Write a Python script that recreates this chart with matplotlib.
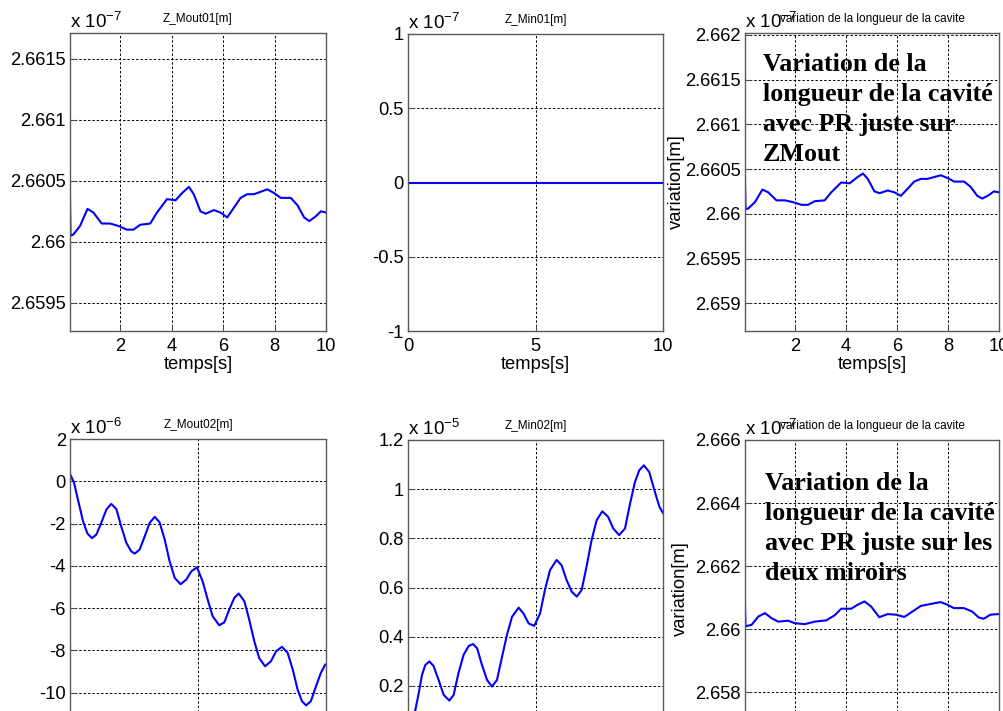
import numpy as np
import matplotlib.pyplot as plt

plt.rcParams['font.family'] = 'Liberation Sans'
plt.rcParams['axes.unicode_minus'] = False

# --- donnees ---
# Z_Mout01 (x 1e-7 m), PR juste sur ZMout
t_mout01 = [0.05, 0.07, 0.18, 0.44, 0.73, 0.96, 1.28, 1.61, 1.93, 2.26, 2.52, 2.78, 3.17,
            3.43, 3.82, 4.15, 4.41, 4.67, 4.86, 5.12, 5.32, 5.64, 5.90, 6.16, 6.42, 6.68,
            6.94, 7.20, 7.46, 7.72, 7.98, 8.24, 8.63, 8.89, 9.15, 9.35, 9.61, 9.80, 10.0]
z_mout01 = [2.66037, 2.66005, 2.66006, 2.66013, 2.66027, 2.66024, 2.66015, 2.66015, 2.66013,
            2.66010, 2.66010, 2.66014, 2.66015, 2.66024, 2.66035, 2.66034, 2.66040, 2.66045,
            2.66039, 2.66025, 2.66023, 2.66026, 2.66024, 2.66020, 2.66028, 2.66036, 2.66039,
            2.66039, 2.66041, 2.66043, 2.66040, 2.66036, 2.66036, 2.66030, 2.66020, 2.66017,
            2.66021, 2.66025, 2.66024]

# Z_Min01 (x 1e-7 m)
t_min01 = [0, 10]
z_min01 = [0, 0]

# Z_Mout02 (x 1e-6 m)
t_mout02 = [0.03, 0.16, 0.31, 0.51, 0.68, 0.86, 1.03, 1.22, 1.42, 1.61, 1.81, 2.0, 2.2, 2.39,
            2.53, 2.72, 2.92, 3.11, 3.31, 3.5, 3.70, 3.89, 4.09, 4.32, 4.54, 4.74, 4.96,
            5.18, 5.38, 5.57, 5.83, 6.03, 6.22, 6.42, 6.59, 6.81, 7.0, 7.2, 7.39, 7.62,
            7.85, 8.05, 8.28, 8.5, 8.7, 8.89, 9.06, 9.22, 9.41, 9.61, 9.8, 9.97]
z_mout02 = [0.27, -0.08, -0.87, -1.89, -2.47, -2.69, -2.52, -1.97, -1.34, -1.07, -1.31, -2.13,
            -2.91, -3.31, -3.42, -3.23, -2.6, -1.97, -1.68, -1.94, -2.76, -3.78, -4.57, -4.87,
            -4.65, -4.26, -4.07, -4.73, -5.6, -6.38, -6.81, -6.67, -6.07, -5.51, -5.31, -5.67,
            -6.54, -7.57, -8.36, -8.75, -8.51, -8.04, -7.83, -8.11, -8.9, -9.85, -10.4, -10.6,
            -10.4, -9.69, -9.06, -8.67]

# Z_Min02 (x 1e-5 m)
t_min02 = [0, 0.15, 0.29, 0.42, 0.55, 0.68, 0.84, 1.0, 1.2, 1.40, 1.62, 1.79, 1.98, 2.18,
           2.38, 2.55, 2.71, 2.9, 3.1, 3.29, 3.49, 3.69, 3.88, 4.08, 4.34, 4.53, 4.73, 4.95,
           5.18, 5.37, 5.57, 5.83, 6.02, 6.22, 6.42, 6.62, 6.81, 7.0, 7.2, 7.4, 7.62, 7.85,
           8.05, 8.28, 8.51, 8.71, 8.9, 9.07, 9.25, 9.46, 9.65, 9.86, 10.0]
z_min02 = [0.0, 0.04, 0.103, 0.17, 0.245, 0.285, 0.299, 0.281, 0.224, 0.163, 0.14, 0.163,
           0.252, 0.326, 0.362, 0.37, 0.353, 0.285, 0.224, 0.197, 0.224, 0.319, 0.407, 0.481,
           0.518, 0.494, 0.454, 0.444, 0.495, 0.59, 0.671, 0.712, 0.691, 0.63, 0.583, 0.563,
           0.59, 0.684, 0.793, 0.874, 0.91, 0.887, 0.84, 0.813, 0.84, 0.942, 1.029, 1.077,
           1.097, 1.07, 1.0, 0.928, 0.903]

# longueur de cavite, PR sur les deux miroirs (x 1e-7 m)
t_cav02 = [0.05, 0.07, 0.31, 0.57, 0.83, 1.09, 1.35, 1.74, 2.0, 2.39, 2.78, 3.23, 3.56, 3.82,
           4.21, 4.47, 4.73, 4.99, 5.31, 5.64, 5.96, 6.29, 6.61, 6.94, 7.32, 7.71, 7.97,
           8.23, 8.62, 8.95, 9.21, 9.40, 9.66, 10.0]
z_cav02 = [2.66078, 2.66009, 2.66014, 2.66040, 2.66051, 2.66035, 2.66024, 2.66027, 2.66019,
           2.66016, 2.66024, 2.66028, 2.66044, 2.66065, 2.66065, 2.66078, 2.66088, 2.66072,
           2.66038, 2.66048, 2.66046, 2.66039, 2.66056, 2.66074, 2.66080, 2.66086, 2.66078,
           2.66067, 2.66067, 2.66056, 2.66037, 2.66033, 2.66046, 2.66048]

texte_zmout = "Variation de la\nlongueur de la cavité\navec PR juste sur\nZMout"
texte_deux = "Variation de la\nlongueur de la cavité\navec PR juste sur les\ndeux miroirs"

W, H = 1004, 711
fig = plt.figure(figsize=(W / 100, H / 100), dpi=100)
FS = 13.2


def make_ax(left, top, right, bottom):
    return fig.add_axes([left / W, 1 - bottom / H, (right - left) / W, (bottom - top) / H])


def style(ax, title, expo):
    ax.grid(True, color='black', linestyle=(0, (2.5, 2)), linewidth=0.7)
    ax.tick_params(direction='in', length=4, labelsize=FS, color='0.3')
    ax.tick_params(axis='x', pad=5)
    ax.tick_params(axis='y', pad=3)
    for s in ax.spines.values():
        s.set_color('0.35')
        s.set_linewidth(1.0)
    ax.set_title(title, fontsize=8.5, pad=8)
    ax.text(0, 1.005, r'x 10$^{\mathregular{' + expo + '}}$', transform=ax.transAxes,
            ha='left', va='bottom', fontsize=13.5)


# ligne 1
ax1 = make_ax(70, 33, 326, 331)
ax1.plot(t_mout01, z_mout01, color='blue', lw=1.5)
ax1.set_xlim(0.05, 10)
ax1.set_ylim(2.65927, 2.66171)
ax1.set_xticks([2, 4, 6, 8, 10])
ax1.set_yticks([2.6595, 2.66, 2.6605, 2.661, 2.6615],
               ['2.6595', '2.66', '2.6605', '2.661', '2.6615'])
style(ax1, 'Z_Mout01[m]', '-7')
ax1.set_xlabel('temps[s]', fontsize=FS, labelpad=1)

ax2 = make_ax(408, 34, 663, 331)
ax2.plot(t_min01, z_min01, color='blue', lw=1.5)
ax2.set_xlim(0, 10)
ax2.set_ylim(-1, 1)
ax2.set_xticks([0, 5, 10])
ax2.set_yticks([-1, -0.5, 0, 0.5, 1], ['-1', '-0.5', '0', '0.5', '1'])
style(ax2, 'Z_Min01[m]', '-7')
ax2.set_xlabel('temps[s]', fontsize=FS, labelpad=1)

ax3 = make_ax(745, 33, 999, 331)
ax3.plot(t_mout01, z_mout01, color='blue', lw=1.5)
ax3.set_xlim(0.05, 10)
ax3.set_ylim(2.65869, 2.66202)
ax3.set_xticks([2, 4, 6, 8, 10])
ax3.set_yticks([2.659, 2.6595, 2.66, 2.6605, 2.661, 2.6615, 2.662],
               ['2.659', '2.6595', '2.66', '2.6605', '2.661', '2.6615', '2.662'])
style(ax3, 'variation de la longueur de la cavite', '-7')
ax3.set_xlabel('temps[s]', fontsize=FS, labelpad=1)
ax3.set_ylabel('variation[m]', fontsize=FS)
ax3.yaxis.set_label_coords(-0.235, 0.5)
fig.text(763 / W, 1 - 53 / H, texte_zmout, family='Liberation Serif', weight='bold',
         fontsize=18.7, ha='left', va='top', linespacing=1.38)

# ligne 2 (coupee en bas)
ax4 = make_ax(70, 439, 326, 735)
ax4.plot(t_mout02, z_mout02, color='blue', lw=1.5)
ax4.set_xlim(0, 10)
ax4.set_ylim(-12, 2)
ax4.set_xticks([0, 5, 10])
ax4.set_yticks([-12, -10, -8, -6, -4, -2, 0, 2])
style(ax4, 'Z_Mout02[m]', '-6')

ax5 = make_ax(408, 440, 663, 735)
ax5.plot(t_min02, z_min02, color='blue', lw=1.5)
ax5.set_xlim(0, 10)
ax5.set_ylim(0, 1.2)
ax5.set_xticks([0, 5, 10])
ax5.set_yticks([0, 0.2, 0.4, 0.6, 0.8, 1, 1.2], ['0', '0.2', '0.4', '0.6', '0.8', '1', '1.2'])
style(ax5, 'Z_Min02[m]', '-5')

ax6 = make_ax(745, 440, 999, 738)
ax6.plot(t_cav02, z_cav02, color='blue', lw=1.5)
ax6.set_xlim(0.05, 10)
ax6.set_ylim(2.65655, 2.666)
ax6.set_xticks([2, 4, 6, 8, 10])
ax6.set_yticks([2.658, 2.66, 2.662, 2.664, 2.666],
               ['2.658', '2.66', '2.662', '2.664', '2.666'])
style(ax6, 'variation de la longueur de la cavite', '-7')
ax6.set_ylabel('variation[m]', fontsize=FS)
ax6.yaxis.set_label_coords(-0.22, 0.5)
fig.text(765 / W, 1 - 472 / H, texte_deux, family='Liberation Serif', weight='bold',
         fontsize=18.7, ha='left', va='top', linespacing=1.38)

fig.savefig('out.png', dpi=100)
